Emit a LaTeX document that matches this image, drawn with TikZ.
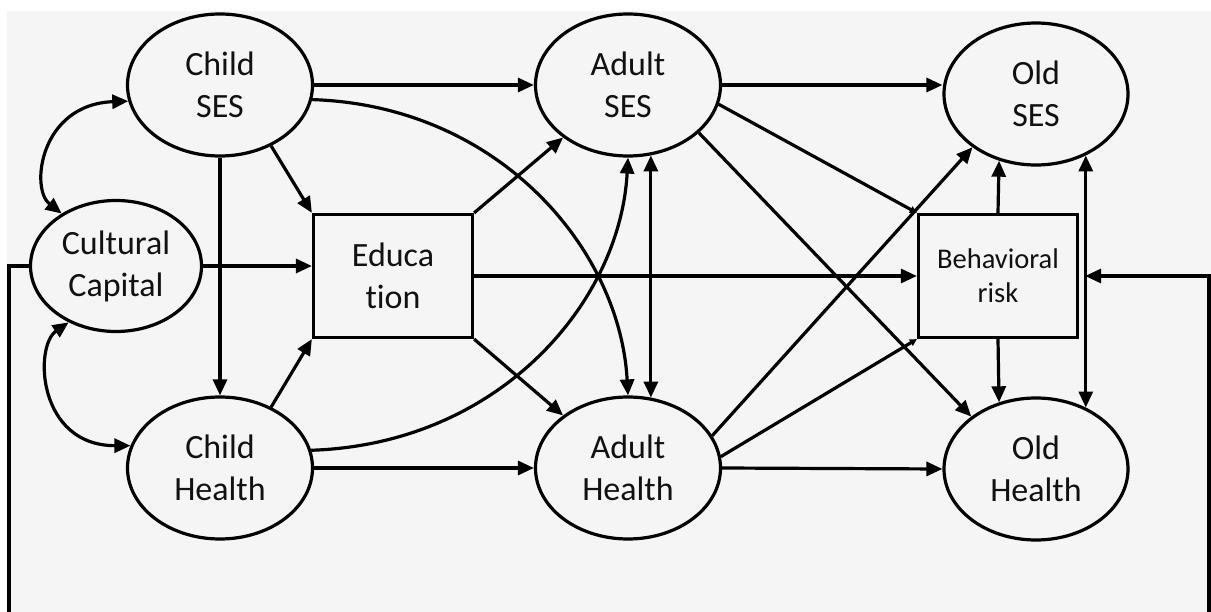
\documentclass[tikz,border=0pt]{standalone}
\usepackage{fontspec}
\setmainfont{Carlito}[Ligatures=NoCommon]
\usetikzlibrary{shapes.geometric,arrows.meta}
\definecolor{bggray}{HTML}{F5F5F5}
\definecolor{ink}{HTML}{111111}
\begin{document}
\begin{tikzpicture}[x=1pt,y=-1pt,
  every node/.style={font=\fontsize{34}{42}\selectfont, align=center, inner sep=0pt, text=ink},
  oval/.style={ellipse, draw, line width=3.2pt, minimum width=185pt, minimum height=142pt},
  box/.style={rectangle, draw, line width=3.2pt, minimum width=159pt, minimum height=123pt},
  conn/.style={line width=3.2pt, -{Triangle[length=16pt,width=14pt]}},
  biconn/.style={line width=3.2pt, {Triangle[length=16pt,width=14pt]}-{Triangle[length=16pt,width=14pt]}},
  smallconn/.style={line width=3.2pt, -{Triangle[length=7pt,width=7pt]}}
]
\fill[white] (0,0) rectangle (1211,612);
\fill[bggray] (7,11) rectangle (1211,612);
\useasboundingbox (0,0) rectangle (1211,612);
\clip (0,0) rectangle (1211,612);

\node[oval] (CS) at (220,85) {Child\\SES};
\node[oval, minimum width=171pt, minimum height=131pt] (CC) at (116,266) {Cultural\\Capital};
\node[oval] (CH) at (220,468) {Child\\Health};
\node[oval] (AS) at (628,85) {Adult\\SES};
\node[oval] (AH) at (628,468) {Adult\\Health};
\node[oval, minimum width=184pt] (OS) at (1036,94) {Old\\SES};
\node[oval, minimum width=184pt] (OH) at (1036,469) {Old\\Health};
\node[box] (ED) at (393,276) {Educa\\t\kern0pt ion};
\node[box, font=\fontsize{28.5}{34}\selectfont] (BR) at (998,276) {Behavioral\\risk};

\draw[conn] (CS.east) -- (AS.west);
\draw[conn] (CS.-9) .. controls +(187,6) and +(-8,-146) .. (AH.north);
\draw[conn] (CH.11) .. controls +(187,-6) and +(-8,146) .. (AS.south);
\draw[biconn] (AS.-72) -- (AH.72);
\draw[conn] (CS.south) -- (CH.north);
\draw[conn] (CS.-50) -- (ED.north west);
\draw[conn] (CH.50) -- (ED.south west);
\draw[conn] (CC.east) -- (CC.east -| ED.west);
\draw[biconn] (CC.136) .. controls +(-32,-25) and +(-88,3) .. (CS.190);
\draw[biconn] (CC.230) .. controls +(-35,24) and +(-93,0) .. (CH.166);
\draw[conn] (ED.north east) -- (AS.-141);
\draw[conn] (ED.south east) -- (AH.141);
\draw[conn] (ED.east) -- (BR.west);
\draw[conn] (CH.east) -- (AH.west);
\draw[conn] (AS.east) -- (AS.east -| OS.west);
\draw[smallconn] (AS.-12) -- (BR.north west);
\draw[conn] (AS.-34) -- (OH.141);
\draw[conn] (AH.21) -- (OS.220);
\draw[smallconn] (AH.7) -- (BR.south west);
\draw[conn] (AH.east) -- (OH.west);
\draw[conn] (BR.north) -- (OS.-119);
\draw[conn] (BR.south) -- (OH.119);
\draw[biconn] (OS.-51.5) -- (OH.51.5);
\coordinate (loopL) at (9,700);
\coordinate (loopR) at (1209,700);
\draw[conn, shorten >=6pt] (CC.west) -| (loopL) -- (loopR) |- (BR.east);
\end{tikzpicture}
\end{document}
